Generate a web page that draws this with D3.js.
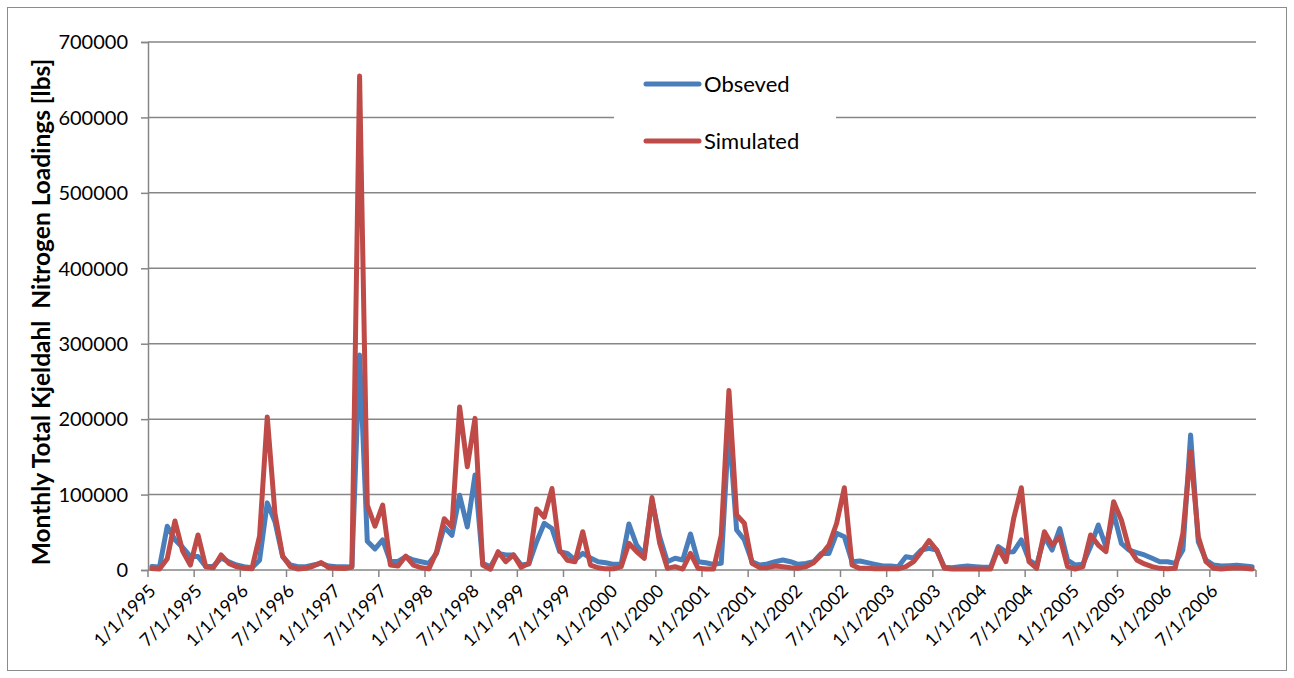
<!DOCTYPE html>
<html>
<head>
<meta charset="utf-8">
<script src="https://cdn.jsdelivr.net/npm/d3@7"></script>
<style>
  html, body { margin: 0; padding: 0; background: #ffffff; }
  svg { display: block; }
  text { font-family: Lato, "Open Sans", "Liberation Sans", sans-serif; fill: #000; }
</style>
</head>
<body>
<svg id="chart" width="1294" height="678"></svg>
<script>
// Monthly TKN loadings, Jan 1995 – Dec 2006 (lbs)
const startYear = 1995;
const monthCount = 144;

const observed = [
  4500, 4000, 58000, 40000, 30000, 18000, 18000, 4500, 5000, 16000, 11000, 6600,
  4400, 3000, 13000, 89000, 64000, 17600, 6600, 4400, 4400, 6600, 8800, 5300,
  4400, 4400, 4000, 285000, 38000, 28000, 40000, 11000, 11500, 17600, 13300, 11000,
  8800, 22000, 57000, 46000, 99000, 57000, 126000, 8800, 4400, 22000, 20000, 20000,
  6600, 8000, 37500, 62000, 55000, 24300, 22000, 13300, 22000, 16000, 11000, 9700,
  7500, 8000, 61000, 33000, 20000, 92000, 44000, 11000, 15500, 13300, 47700, 11000,
  9700, 7500, 8800, 190000, 53000, 40000, 11000, 6600, 8000, 11000, 13300, 11000,
  7500, 8800, 11000, 22000, 22000, 48600, 44000, 11000, 12000, 9700, 7500, 5300,
  5300, 4400, 17600, 16000, 26500, 28700, 26500, 3500, 3100, 4400, 5300, 4400,
  3500, 3500, 31000, 24000, 24300, 40000, 13300, 6600, 44000, 26500, 55000, 13300,
  6600, 7500, 31000, 59700, 31000, 75000, 35400, 26500, 23000, 20000, 15500, 11000,
  11000, 8800, 26500, 179000, 37500, 13300, 6600, 5300, 5700, 6200, 5300, 4400
];

const simulated = [
  2000, 1300, 15000, 65000, 25000, 6600, 46500, 4400, 3000, 20000, 8800, 4400,
  2200, 1500, 45000, 203000, 75000, 18500, 4400, 1300, 2200, 5300, 10000, 3000,
  2200, 2000, 4000, 655000, 86000, 58000, 86000, 6600, 5300, 18500, 6600, 3000,
  1500, 24000, 68000, 57000, 216000, 137000, 201000, 6600, 1000, 24300, 11000, 20000,
  3500, 8800, 81000, 70000, 108000, 26500, 13000, 11000, 50800, 6600, 3000, 1500,
  1500, 4400, 35400, 24300, 15500, 96000, 35400, 2200, 4400, 1300, 22000, 2200,
  1300, 1300, 46000, 238000, 73000, 62000, 8800, 3100, 3100, 5300, 4400, 3000,
  2200, 4400, 9700, 20000, 33000, 62000, 109000, 6600, 2200, 2200, 1500, 1500,
  1500, 1500, 4400, 11000, 24300, 39000, 26500, 2200, 1300, 1300, 1300, 1300,
  1300, 1300, 28700, 11000, 68000, 109000, 11000, 2200, 50800, 33000, 44000, 4400,
  1300, 4400, 46400, 33000, 24300, 90500, 66300, 28700, 13300, 8000, 4400, 2200,
  1500, 2200, 48600, 157000, 44000, 11000, 2200, 1300, 2200, 3100, 2200, 1300
];

const tickLabels = [
  "1/1/1995", "7/1/1995", "1/1/1996", "7/1/1996", "1/1/1997", "7/1/1997",
  "1/1/1998", "7/1/1998", "1/1/1999", "7/1/1999", "1/1/2000", "7/1/2000",
  "1/1/2001", "7/1/2001", "1/1/2002", "7/1/2002", "1/1/2003", "7/1/2003",
  "1/1/2004", "7/1/2004", "1/1/2005", "7/1/2005", "1/1/2006", "7/1/2006"
];

const yTicks = [0, 100000, 200000, 300000, 400000, 500000, 600000, 700000];

const seriesNames = ["Obseved", "Simulated"];
const seriesColors = ["#4A7EBB", "#BE4B48"];

// month keys "m/1/yyyy" for each category
const months = d3.range(monthCount).map(i =>
  `${(i % 12) + 1}/1/${startYear + Math.floor(i / 12)}`);

const svg = d3.select("#chart");
const W = 1294, H = 678;
const plot = { left: 148, right: 1256, top: 42, bottom: 570 };

// chart frame
svg.append("rect")
  .attr("x", 7.5).attr("y", 7.5)
  .attr("width", W - 15).attr("height", H - 15)
  .attr("fill", "#fff").attr("stroke", "#8c8c8c").attr("stroke-width", 1);

const x = d3.scaleBand().domain(months).range([plot.left, plot.right]).padding(0);
const xc = m => x(m) + x.bandwidth() / 2;
const y = d3.scaleLinear().domain([0, 700000]).range([plot.bottom, plot.top]);

const gridColor = "#868686";

// horizontal gridlines
svg.append("g").selectAll("line").data(yTicks.filter(d => d > 0)).join("line")
  .attr("x1", plot.left).attr("x2", plot.right)
  .attr("y1", d => y(d)).attr("y2", d => y(d))
  .attr("stroke", gridColor).attr("stroke-width", 1.5);

// y axis
const yAxis = svg.append("g")
  .attr("transform", `translate(${plot.left},0)`)
  .call(d3.axisLeft(y).tickValues(yTicks).tickSize(7).tickPadding(13).tickFormat(d3.format("d")));
yAxis.select(".domain").attr("stroke", gridColor).attr("stroke-width", 1.5);
yAxis.selectAll(".tick line").attr("stroke", gridColor).attr("stroke-width", 1.5);
yAxis.selectAll(".tick text")
  .attr("font-size", 20).attr("font-family", "Lato, 'Open Sans', sans-serif")
  .attr("fill", "#000").attr("dy", "0.34em");

// x axis: tick every 6 months at category boundaries
const tickIdx = d3.range(0, monthCount + 1, 6);
const tickX = i => plot.left + i * x.step();
const xAxis = svg.append("g");
xAxis.append("line")
  .attr("x1", plot.left).attr("x2", plot.right)
  .attr("y1", plot.bottom).attr("y2", plot.bottom)
  .attr("stroke", gridColor).attr("stroke-width", 1.5);
xAxis.selectAll("line.tk").data(tickIdx).join("line").attr("class", "tk")
  .attr("x1", tickX).attr("x2", tickX)
  .attr("y1", plot.bottom).attr("y2", plot.bottom + 7)
  .attr("stroke", gridColor).attr("stroke-width", 1.5);
xAxis.selectAll("text").data(tickLabels).join("text")
  .attr("transform", (d, i) => `translate(${tickX(i * 6) + 9},${plot.bottom + 22}) rotate(-45)`)
  .attr("text-anchor", "end")
  .attr("font-size", 18)
  .text(d => d);

// series lines
const line = d3.line().x((d, i) => xc(months[i])).y(d => y(d));
[observed, simulated].forEach((s, k) => {
  svg.append("path")
    .datum(s)
    .attr("d", line)
    .attr("fill", "none")
    .attr("stroke", seriesColors[k])
    .attr("stroke-width", 5)
    .attr("stroke-linejoin", "round")
    .attr("stroke-linecap", "round");
});

// legend
const legend = svg.append("g");
legend.append("rect")
  .attr("x", 614).attr("y", 60).attr("width", 222).attr("height", 100)
  .attr("fill", "#fff");
seriesNames.forEach((name, k) => {
  const ly = 84 + k * 57;
  legend.append("line")
    .attr("x1", 646).attr("x2", 699).attr("y1", ly).attr("y2", ly)
    .attr("stroke", seriesColors[k]).attr("stroke-width", 5)
    .attr("stroke-linecap", "round");
  legend.append("text")
    .attr("x", 704).attr("y", ly + 8)
    .attr("font-size", 22)
    .text(name);
});

// y axis title
svg.append("text")
  .attr("transform", `translate(50,${(plot.top + plot.bottom) / 2 + 6}) rotate(-90)`)
  .attr("text-anchor", "middle")
  .attr("font-size", 24.5).attr("font-weight", "bold")
  .style("white-space", "pre")
  .text("Monthly Total Kjeldahl  Nitrogen Loadings [lbs]");
</script>
</body>
</html>
